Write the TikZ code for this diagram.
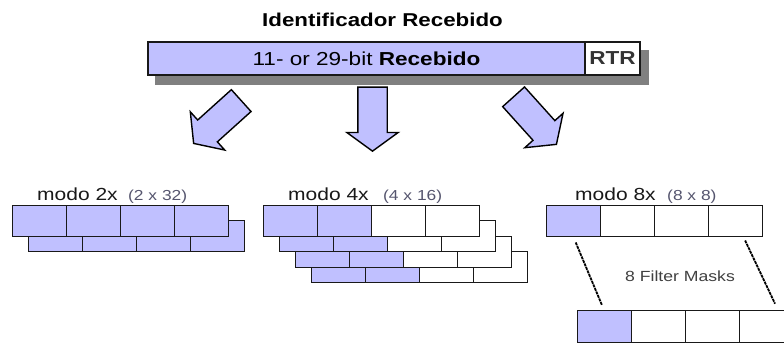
\documentclass[tikz,border=0pt]{standalone}
\usepackage{fontspec}
\setmainfont{Liberation Sans}[FakeStretch=1.2]
\usetikzlibrary{shapes.arrows,calc,backgrounds}

\definecolor{lavender}{RGB}{192,192,255}
\definecolor{shadowgray}{RGB}{128,128,128}
\definecolor{dimtext}{RGB}{85,85,110}
\definecolor{edge}{RGB}{25,25,25}

\tikzset{
  cell/.style={draw=edge, line width=0.9pt, fill=white, minimum width=54pt,
    minimum height=31pt, inner sep=0pt, outer sep=0pt},
  bluecell/.style={cell, fill=lavender},
  modelabel/.style={anchor=base west, inner sep=0pt, text=black!90,
    font=\fontsize{17.5}{19}\selectfont},
  sizelabel/.style={anchor=base west, inner sep=0pt, text=dimtext,
    font=\fontsize{14.5}{16}\selectfont},
  blockarrow/.style={single arrow, draw=black, fill=lavender, line width=1.4pt,
    inner xsep=0pt, inner ysep=14pt, minimum height=64pt, minimum width=50pt,
    single arrow head extend=11pt, single arrow tip angle=108, anchor=tip},
  maskline/.style={line width=1.8pt, dash pattern=on 3pt off 0.8pt}
}

\begin{document}
\begin{tikzpicture}[x=1pt,y=-1pt]
    \clip (0,0) rectangle (784,343);

    % Received identifier
    \node (title) at (382.5,20) {\fontsize{18.6}{20}\selectfont\bfseries Identificador Recebido};
    \node[draw=edge, fill=lavender, line width=1.1pt, minimum width=437pt,
          minimum height=33pt, inner sep=0pt] (ident) at (366.5,58.5)
          {\fontsize{18.8}{20}\selectfont 11- or 29-bit \textbf{Recebido}};
    \node[draw=edge, fill=white, line width=1.1pt, minimum width=55pt,
          minimum height=33pt, inner sep=0pt, text=black!80] (rtr) at (612.5,58.5)
          {\fontsize{18.8}{20}\selectfont\bfseries RTR};
    \begin{scope}[on background layer]
        \fill[shadowgray] ($(ident.north west)+(8,9)$) rectangle ($(rtr.south east)+(8,9)$);
    \end{scope}

    % Arrows to the three modes
    \node[blockarrow, rotate=-138] (arrow2) at (193,144) {};
    \node[blockarrow, rotate=-90] (arrow4) at (372.5,152) {};
    \node[blockarrow, rotate=-48] (arrow8) at (557,145) {};

    % modo 2x
    \node[modelabel] (mode2) at (37,200) {modo 2x};
    \node[sizelabel] (size2) at (128,200) {(2 x 32)};
    \foreach \r in {2,1}
        \foreach \c in {1,...,4}
            \node[bluecell] (m2-\r-\c) at ({12+(\r-1)*16+(\c-0.5)*54},{220.5+(\r-1)*15.5}) {};

    % modo 4x
    \node[modelabel] (mode4) at (288,200) {modo 4x};
    \node[sizelabel] (size4) at (383,200) {(4 x 16)};
    \foreach \r in {4,3,2,1}
        \foreach \c in {1,...,4} {
            \ifnum\c<3 \def\look{bluecell}\else \def\look{cell}\fi
            \node[\look] (m4-\r-\c) at ({263+(\r-1)*16+(\c-0.5)*54},{220.5+(\r-1)*15.5}) {};
        }

    % modo 8x
    \node[modelabel] (mode8) at (575,200) {modo 8x};
    \node[sizelabel] (size8) at (667,200) {(8 x 8)};
    \foreach \c in {1,...,4} {
        \ifnum\c=1 \def\look{bluecell}\else \def\look{cell}\fi
        \node[\look] (m8-\c) at ({546+(\c-0.5)*54},220.5) {};
        \node[\look, minimum height=32pt] (mask-\c) at ({577+(\c-0.5)*54},326) {};
    }
    \draw[maskline, shorten <=7pt, shorten >=5pt] (m8-1.south) -- (mask-1.north);
    \draw[maskline, shorten <=5pt, shorten >=7pt] ($(m8-4.south)+(8,0)$) -- ($(mask-4.north)+(12,0)$);
    \node[text=black!75, font=\fontsize{14.7}{16}\selectfont] (masks) at (680,276) {8 Filter Masks};
\end{tikzpicture}
\end{document}
